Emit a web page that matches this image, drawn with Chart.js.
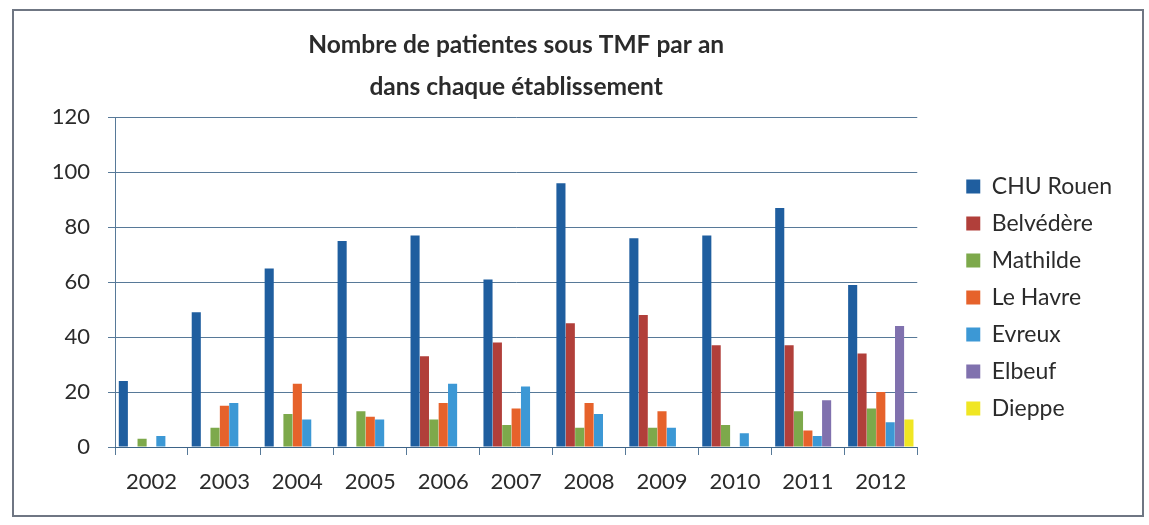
<!DOCTYPE html>
<html lang="fr">
<head>
<meta charset="utf-8">
<title>Nombre de patientes sous TMF par an</title>
<script src="https://cdn.jsdelivr.net/npm/chart.js@4.4.1/dist/chart.umd.min.js"></script>
<style>
  html, body { margin: 0; padding: 0; background: #fff; }
  body { width: 1149px; height: 525px; position: relative; overflow: hidden; }
  .frame {
    position: absolute; left: 12px; top: 9px;
    width: 1132px; height: 508px;
    box-sizing: border-box; border: 2px solid #6f7683;
  }
  .frame canvas { display: block; }
</style>
</head>
<body>
<div class="frame"><canvas id="chart" width="1128" height="504"></canvas></div>
<script>
// ===== Data =====
const years = ['2002', '2003', '2004', '2005', '2006', '2007', '2008', '2009', '2010', '2011', '2012'];
const chuRouen   = [24, 49, 65, 75, 77, 61, 96, 76, 77, 87, 59];
const belvedere  = [0, 0, 0, 0, 33, 38, 45, 48, 37, 37, 34];
const mathilde   = [3, 7, 12, 13, 10, 8, 7, 7, 8, 13, 14];
const leHavre    = [0, 15, 23, 11, 16, 14, 16, 13, 0, 6, 20];
const evreux     = [4, 16, 10, 10, 23, 22, 12, 7, 5, 4, 9];
const elbeuf     = [0, 0, 0, 0, 0, 0, 0, 0, 0, 17, 44];
const dieppe     = [0, 0, 0, 0, 0, 0, 0, 0, 0, 0, 10];
const yTicks     = [0, 20, 40, 60, 80, 100, 120];

const FONT = "Lato, 'Open Sans', sans-serif";
const TEXT = '#2b2b2b';
const GRID = 'rgba(58,98,134,0.85)';

const series = [
  { label: 'CHU Rouen',  data: chuRouen,  color: '#1f5e9f' },
  { label: 'Belvédère',  data: belvedere, color: '#b13f3a' },
  { label: 'Mathilde',   data: mathilde,  color: '#7da94b' },
  { label: 'Le Havre',   data: leHavre,   color: '#e6622b' },
  { label: 'Evreux',     data: evreux,    color: '#3c98d5' },
  { label: 'Elbeuf',     data: elbeuf,    color: '#8071ae' },
  { label: 'Dieppe',     data: dieppe,    color: '#f0e623' }
];

// ===== Chart =====
new Chart(document.getElementById('chart'), {
  type: 'bar',
  data: {
    labels: years,
    datasets: series.map(s => ({
      label: s.label, data: s.data,
      backgroundColor: s.color, borderWidth: 0,
      categoryPercentage: 0.9, barPercentage: 0.97
    }))
  },
  options: {
    responsive: false, animation: false,
    layout: { padding: { top: 0, right: 20, bottom: 0, left: 0 } },
    plugins: {
      title: {
        display: true, fullSize: false,
        text: ['Nombre de patientes sous TMF par an', 'dans chaque établissement'],
        color: TEXT,
        font: { family: FONT, size: 24.5, weight: 'bold', lineHeight: 1.72 },
        padding: { top: 13, bottom: 9 }
      },
      legend: {
        position: 'right', align: 'start',
        // empty title used as a spacer to push the items down
        title: { display: true, text: '', font: { size: 10, lineHeight: 1.2 }, padding: { top: 138, bottom: 0 } },
        labels: {
          color: TEXT, font: { family: FONT, size: 23 },
          boxWidth: 14, boxHeight: 14, padding: 14
        }
      },
      tooltip: { enabled: false }
    },
    scales: {
      x: {
        offset: true,
        grid: { display: true, drawOnChartArea: false, drawTicks: true, tickLength: 8, color: GRID, offset: true },
        border: { display: true, color: GRID },
        ticks: { color: TEXT, font: { family: FONT, size: 22 }, padding: 14, maxRotation: 0 },
        afterFit: s => { s.height = 68; }
      },
      y: {
        min: 0, max: 120,
        afterBuildTicks: s => { s.ticks = yTicks.map(v => ({ value: v })); },
        grid: { color: GRID, lineWidth: 1, tickLength: 7 },
        border: { display: true, color: GRID },
        ticks: { color: TEXT, font: { family: FONT, size: 22 }, padding: 18 },
        afterFit: s => { s.width = 101; }
      },
      // blank strip between the plot and the legend
      gap: {
        type: 'linear', position: 'right', display: true,
        grid: { display: false }, border: { display: false },
        ticks: { display: false },
        afterFit: s => { s.width = 35; }
      }
    }
  }
});
</script>
</body>
</html>
